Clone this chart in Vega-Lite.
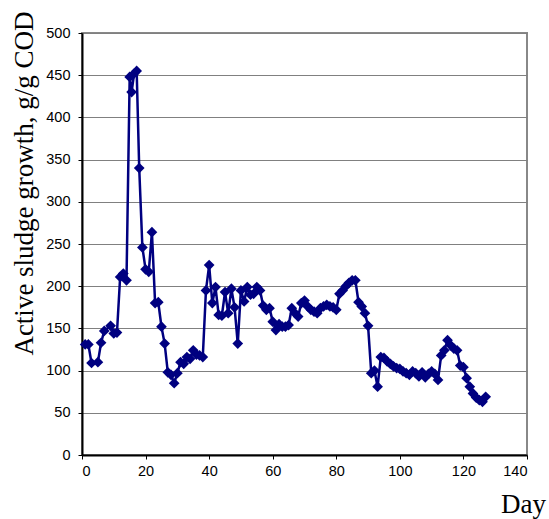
{
  "$schema": "https://vega.github.io/schema/vega-lite/v6.json",
  "autosize": "none",
  "width": 445,
  "height": 422,
  "padding": {"left": 82, "top": 33, "right": 22, "bottom": 64},
  "background": "white",
  "config": {
    "view": {"stroke": "#888888", "strokeWidth": 2},
    "axis": {"labelFont": "Liberation Sans", "labelFontSize": 14.5, "labelColor": "black", "titleFont": "Liberation Serif", "titleFontSize": 27, "titleFontWeight": "normal", "titleColor": "black", "domainColor": "black", "domainWidth": 2, "tickColor": "black", "tickSize": 4, "tickWidth": 1}
  },
  "data": {"values": [
    {"day": 1, "v": 131}, {"day": 2, "v": 131}, {"day": 3, "v": 109}, {"day": 5, "v": 110}, {"day": 6, "v": 133},
    {"day": 7, "v": 147}, {"day": 9, "v": 153}, {"day": 10, "v": 144}, {"day": 11, "v": 145}, {"day": 12, "v": 211},
    {"day": 13, "v": 215}, {"day": 14, "v": 207}, {"day": 15, "v": 448}, {"day": 15.6, "v": 430}, {"day": 16.4, "v": 452},
    {"day": 17.2, "v": 455}, {"day": 18, "v": 340}, {"day": 19, "v": 246}, {"day": 20, "v": 220}, {"day": 21, "v": 217},
    {"day": 22, "v": 264}, {"day": 23, "v": 180}, {"day": 24, "v": 181}, {"day": 25, "v": 152}, {"day": 26, "v": 132},
    {"day": 27, "v": 98}, {"day": 28, "v": 95}, {"day": 29, "v": 85}, {"day": 30, "v": 97}, {"day": 31, "v": 110},
    {"day": 32, "v": 108}, {"day": 33, "v": 116}, {"day": 34, "v": 114}, {"day": 35, "v": 124}, {"day": 36, "v": 119},
    {"day": 37, "v": 118}, {"day": 38, "v": 116}, {"day": 39, "v": 195}, {"day": 40, "v": 225}, {"day": 41, "v": 180},
    {"day": 42, "v": 199}, {"day": 43, "v": 166}, {"day": 44, "v": 165}, {"day": 45, "v": 193}, {"day": 46, "v": 168},
    {"day": 47, "v": 197}, {"day": 48, "v": 175}, {"day": 49, "v": 132}, {"day": 50, "v": 195}, {"day": 51, "v": 182},
    {"day": 52, "v": 199}, {"day": 53, "v": 190}, {"day": 54, "v": 191}, {"day": 55, "v": 199}, {"day": 56, "v": 195},
    {"day": 57, "v": 177}, {"day": 58, "v": 172}, {"day": 59, "v": 174}, {"day": 60, "v": 158}, {"day": 61, "v": 148},
    {"day": 62, "v": 155}, {"day": 63, "v": 152}, {"day": 64, "v": 152}, {"day": 65, "v": 154}, {"day": 66, "v": 174},
    {"day": 67, "v": 168}, {"day": 68, "v": 164}, {"day": 69, "v": 180}, {"day": 70, "v": 183}, {"day": 71, "v": 176},
    {"day": 72, "v": 172}, {"day": 73, "v": 170}, {"day": 74, "v": 168}, {"day": 75, "v": 174}, {"day": 76, "v": 176},
    {"day": 77, "v": 178}, {"day": 78, "v": 176}, {"day": 79, "v": 175}, {"day": 80, "v": 172}, {"day": 81, "v": 191},
    {"day": 82, "v": 195}, {"day": 83, "v": 200}, {"day": 84, "v": 204}, {"day": 85, "v": 207}, {"day": 86, "v": 207},
    {"day": 87, "v": 181}, {"day": 88, "v": 176}, {"day": 89, "v": 168}, {"day": 90, "v": 153}, {"day": 91, "v": 97},
    {"day": 92, "v": 100}, {"day": 93, "v": 81}, {"day": 94, "v": 116}, {"day": 95, "v": 115}, {"day": 96, "v": 111},
    {"day": 97, "v": 108}, {"day": 98, "v": 105}, {"day": 99, "v": 103}, {"day": 100, "v": 102}, {"day": 101, "v": 99},
    {"day": 102, "v": 97}, {"day": 103, "v": 95}, {"day": 104, "v": 99}, {"day": 105, "v": 97}, {"day": 106, "v": 93},
    {"day": 107, "v": 98}, {"day": 108, "v": 92}, {"day": 109, "v": 96}, {"day": 110, "v": 99}, {"day": 111, "v": 96},
    {"day": 112, "v": 89}, {"day": 113, "v": 118}, {"day": 114, "v": 124}, {"day": 115, "v": 136}, {"day": 116, "v": 130},
    {"day": 117, "v": 126}, {"day": 118, "v": 124}, {"day": 119, "v": 106}, {"day": 120, "v": 104}, {"day": 121, "v": 91},
    {"day": 122, "v": 81}, {"day": 123, "v": 73}, {"day": 124, "v": 68}, {"day": 125, "v": 65}, {"day": 126, "v": 63},
    {"day": 127, "v": 69}
  ]},
  "encoding": {
    "x": {"field": "day", "type": "quantitative", "scale": {"domain": [0, 140], "nice": false, "zero": false},
      "axis": {"title": "Day", "values": [0, 20, 40, 60, 80, 100, 120, 140], "grid": false, "labelPadding": 5, "titleX": 441, "titleY": 57, "titleAlign": "center", "titleBaseline": "alphabetic"}},
    "y": {"field": "v", "type": "quantitative", "scale": {"domain": [0, 500], "nice": false},
      "axis": {"title": "Active sludge growth, g/g COD", "values": [0, 50, 100, 150, 200, 250, 300, 350, 400, 450, 500], "grid": true, "gridColor": "#808080", "gridWidth": 1, "labelPadding": 8, "titleX": -50, "titleY": 150, "titleAlign": "center", "titleAngle": -90, "titleBaseline": "alphabetic"}}
  },
  "layer": [
    {"mark": {"type": "line", "color": "#000080", "strokeWidth": 2.5}},
    {"mark": {"type": "point", "shape": "diamond", "filled": true, "color": "#000080", "size": 115, "opacity": 1}}
  ]
}
